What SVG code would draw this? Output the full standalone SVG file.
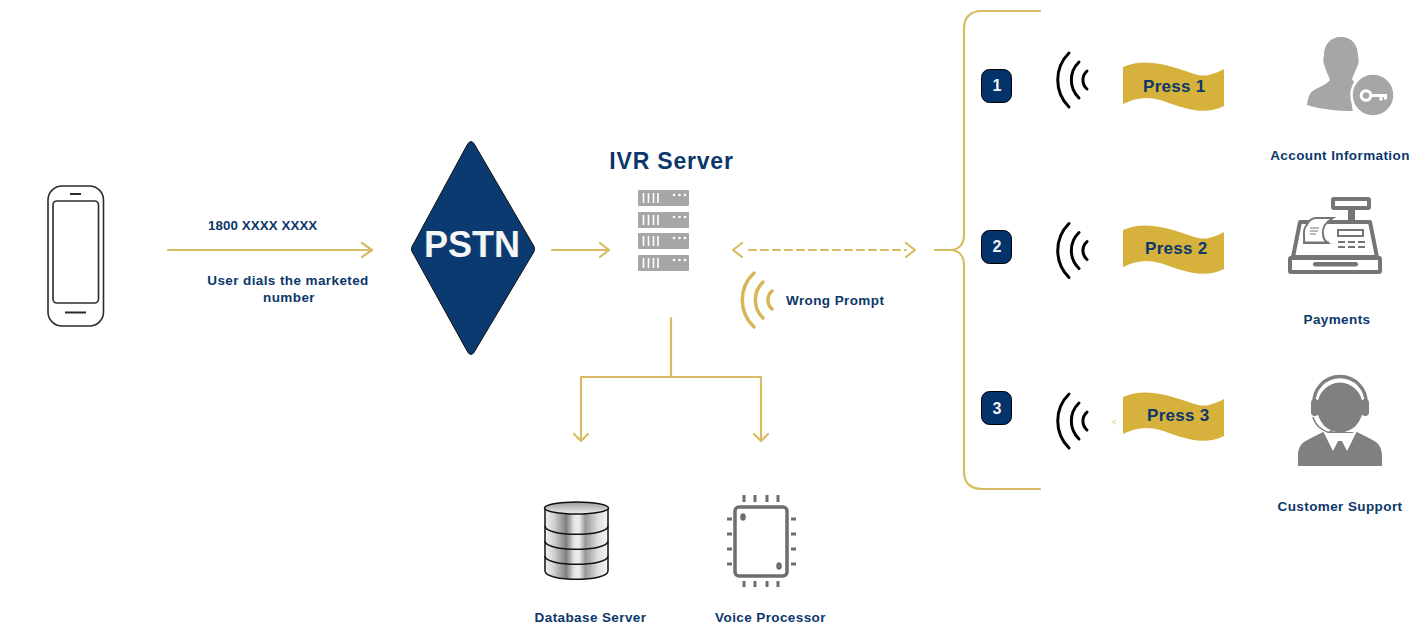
<svg xmlns="http://www.w3.org/2000/svg" xmlns:xlink="http://www.w3.org/1999/xlink" width="1422" height="638" viewBox="0 0 1422 638">
<style>
text{font-family:"Liberation Sans",Arial,sans-serif;font-weight:700;fill:#0c376b}
.lb{font-size:13.5px;letter-spacing:.4px}
.ln{fill:none;stroke:#d8bb62;stroke-width:2.2;stroke-linecap:round;stroke-linejoin:round}
.flag{fill:#d6b13c}
.press{font-size:17px;letter-spacing:.3px}
.badge{fill:#04326a;stroke:#000;stroke-width:1}
.num{font-size:16px;fill:#f4f4f4;text-anchor:middle}
.arc{fill:none;stroke:#000;stroke-width:3;stroke-linecap:round}
.rack{fill:#a6a6a6}
.w{stroke:#fff;stroke-width:1.600;fill:none}
</style>
<defs>
<linearGradient id="silver" x1="0" x2="1" y1="0" y2="0">
<stop offset="0" stop-color="#f2f2f2"/><stop offset=".14" stop-color="#d2d2d2"/><stop offset=".34" stop-color="#7f7f7f"/><stop offset=".46" stop-color="#e4e4e4"/><stop offset=".54" stop-color="#eeeeee"/><stop offset=".64" stop-color="#989898"/><stop offset=".84" stop-color="#dedede"/><stop offset="1" stop-color="#f6f6f6"/>
</linearGradient>
<linearGradient id="cap" x1="0" x2="0" y1="0" y2="1">
<stop offset="0" stop-color="#9a9a9a"/><stop offset="1" stop-color="#f0f0f0"/>
</linearGradient>
<g id="arcs">
<path class="arc" d="M1069,53 A38,38 0 0 0 1069,107"/>
<path class="arc" d="M1079,62 A25,25 0 0 0 1079,98"/>
<path class="arc" d="M1087,71 A12,12 0 0 0 1087,89"/>
</g>
<g id="rack">
<rect class="rack" x="638" y="190" width="51" height="16" rx="1"/>
<path class="w" d="M643.500,193v10M648.500,193v10M653.500,193v10M658,193v10"/>
<circle cx="674" cy="195" r="1.300" fill="#fff"/><circle cx="679.500" cy="195" r="1.300" fill="#fff"/><circle cx="685" cy="195" r="1.300" fill="#fff"/>
</g>
<path id="flag" class="flag" d="M1123,67 C1150,55 1180,70 1198,75 C1208,77 1216,73 1224,69 L1224,106 C1200,118 1175,104 1160,100 C1147,96 1135,98 1123,104 Z"/>
</defs>

<g id="connectors">
<path class="ln" d="M168,250H372M362,243L372,250L362,257"/>
<path class="ln" d="M552,250H609M600,243L609,250L600,257"/>
<path class="ln" stroke-dasharray="7 5" d="M749,250H906"/>
<path class="ln" d="M742,243L733,250L742,257M906,243L915,250L906,257"/>
<path class="ln" d="M935,250H950C959,250 964,244 964,235V28C964,17 971,11 982,11H1040M950,250C959,250 964,256 964,265V472C964,483 971,489 982,489H1040"/>
<path class="ln" d="M671,318V377M581,377H761M581,377V441M761,377V441M574,434L581,441L588,434M754,434L761,441L768,434"/>
<path d="M1112,422L1116,420M1112,422L1116,424" stroke="#efe3b8" stroke-width="1.500" fill="none"/>
</g>

<g id="phone" fill="none" stroke="#2b2b2b" stroke-width="1.600">
<rect x="48" y="186" width="55.500" height="140" rx="14"/>
<rect x="53" y="201" width="45.500" height="102" rx="4"/>
<path d="M70,194H81M65,312.500H86" stroke-width="2"/>
</g>
<g id="dial-label">
<text x="208" y="230" font-size="13.300" letter-spacing=".1">1800 XXXX XXXX</text>
<text class="lb" x="288" y="285" text-anchor="middle">User dials the marketed</text>
<text class="lb" x="289" y="302" text-anchor="middle">number</text>
</g>

<g id="pstn">
<path d="M466,147Q471,136 476,147L532,243Q537,249 532,255L476,349Q471,360 466,349L414,255Q409,249 414,243Z" fill="#0b3a70" stroke="#111" stroke-width="1"/>
<text x="472" y="257" text-anchor="middle" font-size="36" style="fill:#f5f5f5">PSTN</text>
</g>

<g id="ivr-server">
<text x="671.500" y="169" text-anchor="middle" font-size="23" letter-spacing=".8">IVR Server</text>
<use xlink:href="#rack" href="#rack"/>
<use xlink:href="#rack" href="#rack" y="22"/>
<use xlink:href="#rack" href="#rack" y="43"/>
<use xlink:href="#rack" href="#rack" y="65"/>
</g>

<g id="wrong-prompt" fill="none" stroke="#d6b656" stroke-width="3.500" stroke-linecap="round">
<path d="M754,273A37,37 0 0 0 754,327M763,282A25,25 0 0 0 763,318M772,291A12,12 0 0 0 772,309"/>
<text x="786" y="305" class="lb" stroke="none">Wrong Prompt</text>
</g>

<g id="option-1">
<rect class="badge" x="981.500" y="69.500" width="30" height="33" rx="8"/>
<text class="num" x="997" y="91">1</text>
<use xlink:href="#arcs" href="#arcs"/>
<use xlink:href="#flag" href="#flag"/>
<text class="press" x="1143" y="92">Press 1</text>
</g>
<g id="option-2">
<rect class="badge" x="981.500" y="230.500" width="30" height="33" rx="8"/>
<text class="num" x="997" y="252">2</text>
<use xlink:href="#arcs" href="#arcs" y="170.500"/>
<use xlink:href="#flag" href="#flag" y="163"/>
<text class="press" x="1145" y="254">Press 2</text>
</g>
<g id="option-3">
<rect class="badge" x="981.500" y="391.500" width="30" height="33" rx="8"/>
<text class="num" x="997" y="414">3</text>
<use xlink:href="#arcs" href="#arcs" y="341"/>
<use xlink:href="#flag" href="#flag" y="330"/>
<text class="press" x="1147" y="421">Press 3</text>
</g>

<g id="account-information">
<path fill="#a6a6a6" d="M1341,37C1352,37 1358,45 1358,56C1359,60 1359,64 1357,67C1355,72 1353,76 1352,79C1354,83 1358,84 1362,86L1352,98C1351,103 1352,107 1353,111C1337,111 1320,109 1307,105C1308,97 1310,92 1314,90C1319,87 1326,85 1330,80C1329,76 1326,72 1325,67C1323,64 1323,59 1324,55C1324,45 1330,37 1341,37Z"/>
<circle cx="1373" cy="95" r="21.500" fill="#a6a6a6" stroke="#fff" stroke-width="2.500"/>
<circle cx="1366" cy="95.500" r="4.800" fill="none" stroke="#fff" stroke-width="3"/>
<path d="M1371,95.500H1387M1381,95.500V100.500M1385.500,95.500V99.500" fill="none" stroke="#fff" stroke-width="3"/>
<text class="lb" x="1340" y="160" text-anchor="middle">Account Information</text>
</g>

<g id="payments">
<g fill="none" stroke="#757575" stroke-width="4" stroke-linejoin="round">
<rect x="1333" y="199" width="36" height="9" rx="1"/>
<path d="M1351.500,209V221" stroke-width="7"/>
<path d="M1300,222H1370L1377,257H1293Z"/>
<rect x="1290" y="258" width="90" height="14" rx="1"/>
</g>
<g fill="#757575">
<rect x="1313" y="262" width="45" height="4.500" rx="2.200"/>
<path d="M1316,218H1333C1326,222 1322,228 1323,234C1323,238 1325,241 1328,243H1304C1305,236 1302,231 1306,226C1308,222 1311,218 1316,218Z" fill="#fff" stroke="#757575" stroke-width="2"/>
<path d="M1310,228H1319M1310,231H1318M1310,234H1316" stroke="#757575" stroke-width="1" fill="none"/>
<path d="M1303,241.500H1329v2.500H1303Z"/>
<path fill-rule="evenodd" d="M1337,229H1364V237H1337ZM1339,231V235H1362V231Z"/>
<rect x="1338" y="241" width="7" height="2"/><rect x="1348" y="241" width="7" height="2"/><rect x="1358" y="241" width="7" height="2"/>
<rect x="1338" y="246" width="7" height="2"/><rect x="1348" y="246" width="7" height="2"/><rect x="1358" y="246" width="7" height="2"/>
</g>
<text class="lb" x="1337" y="324" text-anchor="middle">Payments</text>
</g>

<g id="customer-support">
<path d="M1314,404C1313,389 1325,376.500 1340,376.500C1355,376.500 1367,389 1366,404" fill="none" stroke="#808080" stroke-width="3.500"/>
<rect x="1311" y="399" width="7.500" height="17" rx="3.700" fill="#808080"/><rect x="1361.500" y="399" width="7.500" height="17" rx="3.700" fill="#808080"/>
<ellipse cx="1340" cy="407.500" rx="23" ry="25" fill="#808080"/>
<path d="M1313,417C1315,425 1322,431 1330,433" fill="none" stroke="#808080" stroke-width="1.500"/>
<circle cx="1331" cy="433" r="2.500" fill="#808080"/>
<path fill="#808080" d="M1323,432H1357L1367,437C1371,440 1382,441 1382,456V466H1298V456C1298,441 1309,440 1313,437Z"/>
<path fill="#fff" d="M1323,431L1333,451L1338,441H1342L1347,451L1357,431L1352,433H1328Z"/>
<text class="lb" x="1340" y="511" text-anchor="middle">Customer Support</text>
</g>

<g id="database-server">
<path d="M545,509V571C545,582 608,582 608,571V509Z" fill="url(#silver)" stroke="#111" stroke-width="1.500"/>
<ellipse cx="576.500" cy="508" rx="32" ry="6" fill="url(#cap)" stroke="#111" stroke-width="1.500"/>
<path d="M545,526C545,537 608,537 608,526M545,541C545,552 608,552 608,541M545,556C545,567 608,567 608,556" fill="none" stroke="#111" stroke-width="1.500"/>
<text class="lb" x="590.500" y="622" text-anchor="middle">Database Server</text>
</g>

<g id="voice-processor">
<rect x="735" y="507" width="52" height="69" rx="4" fill="none" stroke="#6e6e6e" stroke-width="3.500"/>
<ellipse cx="743" cy="517" rx="2.800" ry="3.800" fill="#6e6e6e"/><ellipse cx="779" cy="566" rx="2.800" ry="3.800" fill="#6e6e6e"/>
<path d="M744,495V502M755,495V502M767,495V502M778,495V502M744,581V587M755,581V587M767,581V587M778,581V587M727,519H732M727,534H732M727,549H732M727,564H732M791,519H796M791,534H796M791,549H796M791,564H796" fill="none" stroke="#6e6e6e" stroke-width="3"/>
<text class="lb" x="770.500" y="622" text-anchor="middle">Voice Processor</text>
</g>
</svg>
